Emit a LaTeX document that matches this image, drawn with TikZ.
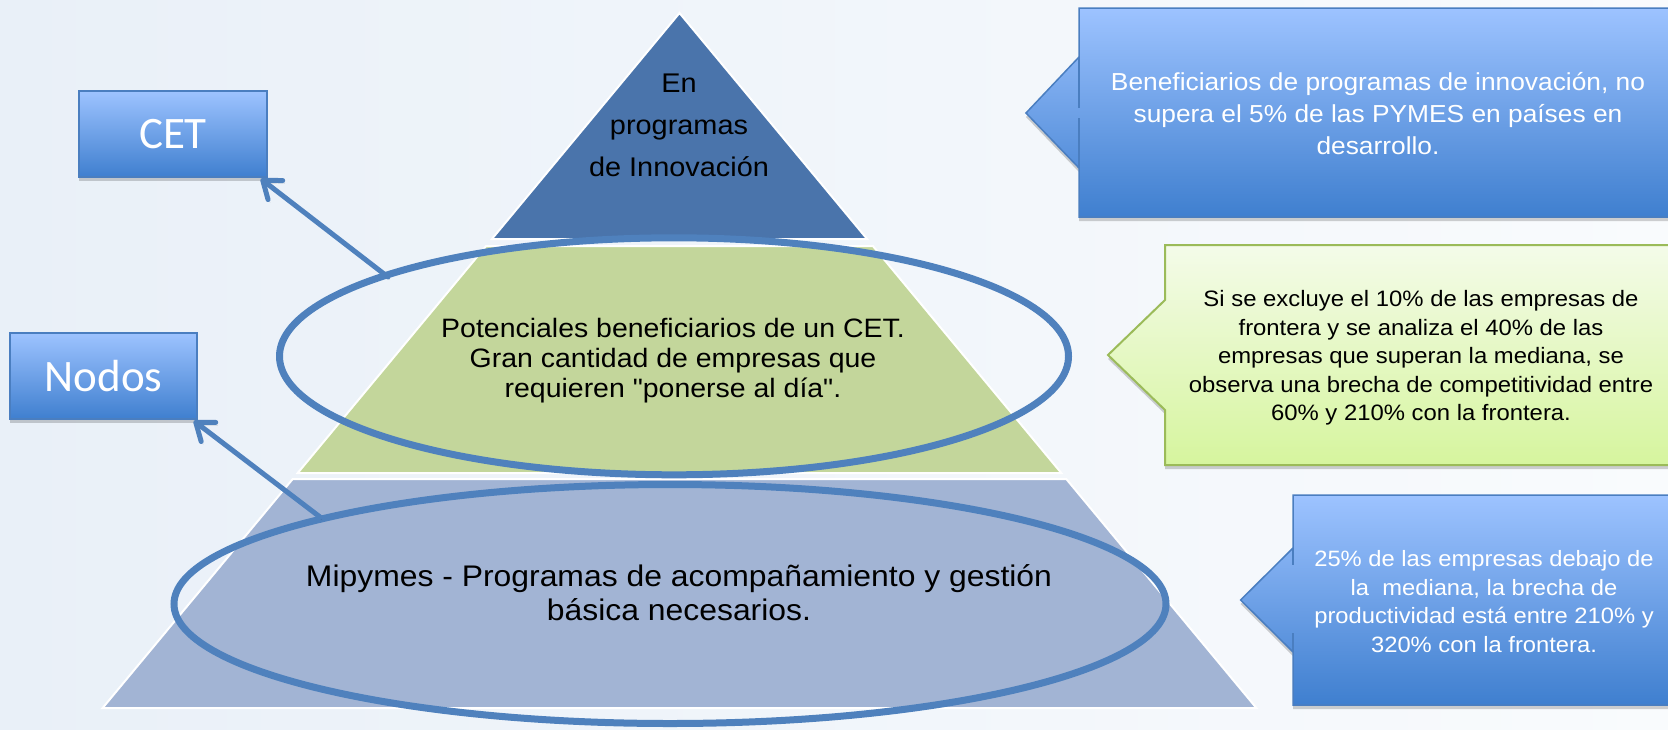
\documentclass[tikz,border=0pt]{standalone}
\usepackage{fontspec}
\setmainfont{Liberation Sans}[FakeStretch=1.07]
\newfontfamily\plainq{Liberation Sans}[FakeStretch=1.07]
\newfontfamily\calib{Carlito}
\usetikzlibrary{shapes.geometric,arrows.meta,shadows,calc}
\definecolor{bgL}{HTML}{E9F0F8}
\definecolor{bgR}{HTML}{F9FBFD}
\definecolor{tri}{HTML}{4A74AB}
\definecolor{midg}{HTML}{C3D69B}
\definecolor{lowb}{HTML}{A2B4D4}
\definecolor{ring}{HTML}{4F81BD}
\definecolor{boxtop}{HTML}{9DC3FF}
\definecolor{boxbot}{HTML}{3F7FCF}
\definecolor{boxline}{HTML}{4A7EC0}
\definecolor{gtop}{HTML}{F4FBE9}
\definecolor{gbot}{HTML}{D6F59E}
\definecolor{gline}{HTML}{9BBB59}
\begin{document}
\begin{tikzpicture}[x=1pt,y=-1pt,
  layer/.style={draw=white,line width=2pt},
  ringstyle/.style={ellipse,draw=ring,line width=7pt,inner sep=0pt},
  softshadow/.style={drop shadow={shadow xshift=0pt,shadow yshift=-4pt,fill=black,opacity=0.18}},
  labelbox/.style={draw=boxline,line width=1.5pt,top color=boxtop,bottom color=boxbot,
    text=white,font=\calib\fontsize{45}{50}\selectfont,inner sep=0pt,softshadow},
  bluecall/.style={draw=boxline,line width=1.5pt,top color=boxtop,bottom color=boxbot},
  greencall/.style={draw=gline,line width=2pt,top color=gtop,bottom color=gbot},
  conn/.style={draw=ring,line width=5pt,line cap=round,-{Straight Barb[length=16pt,width=24pt,round]},
    preaction={draw=black,opacity=0.13,transform canvas={shift={(2pt,-3pt)}}}},
  txt/.style={align=center,inner sep=0pt}
  ]
\clip (0,0) rectangle (1668,729);
\fill[left color=bgL,right color=bgR] (0,0) rectangle (1668,729);

% pyramid
\path[layer,fill=tri] (679.5,13) -- (867.1,239) -- (491.9,239) -- cycle;
\path[layer,fill=midg] (486.1,246) -- (872.9,246) -- (1061.3,473) -- (297.7,473) -- cycle;
\path[layer,fill=lowb] (292.7,479) -- (1066.3,479) -- (1256.4,708) -- (102.6,708) -- cycle;

\node[txt,font=\fontsize{27}{42}\selectfont] (t1) at (679,125.2) {En\\programas\\de Innovación};
\node[txt,font=\fontsize{26.6}{30}\selectfont] (t2) at (673,361) {Potenciales beneficiarios de un CET.\\Gran cantidad de empresas que\\requieren {\plainq"}ponerse al día{\plainq"}.};
\node[txt,font=\fontsize{29.8}{34}\selectfont] (t3) at (679,592.5) {Mipymes - Programas de acompañamiento y gestión\\básica necesarios.};

% rings
\node[ringstyle,minimum width=789pt,minimum height=237pt] (ring1) at (674,356.3) {};
\node[ringstyle,minimum width=992pt,minimum height=239pt] (ring2) at (670,604) {};

% label boxes
\node[labelbox,minimum width=188pt,minimum height=86pt] (cet) at (173,134) {CET};
\node[labelbox,minimum width=187pt,minimum height=86pt] (nodos) at (103.5,376) {Nodos};

% connectors
\coordinate (s1) at (388,277);
\coordinate (s2) at (320,517);
\draw[conn] (s1) -- ($(cet.south east)+(-7,1)$);
\draw[conn] (s2) -- ($(nodos.south east)+(-4,1)$);

% callouts
\path[bluecall,softshadow] (1079,8) -- (1690,8) -- (1690,217) -- (1079,217) -- (1079,168) -- (1026,113) -- (1079,57) -- cycle;
\draw[boxline,line width=1.5pt] (1079,57) -- (1079,108) (1079,118) -- (1079,168);
\node[txt,text=white,font=\fontsize{24.6}{31.7}\selectfont] (c1) at (1378,113.4)
  {Beneficiarios de programas de innovación, no\\supera el 5\% de las PYMES en países en\\desarrollo.};

\path[greencall,softshadow] (1165,245) -- (1690,245) -- (1690,465) -- (1165,465) -- (1165,410) -- (1108,355) -- (1165,300) -- cycle;
\node[txt,text=black,font=\fontsize{22.3}{28.4}\selectfont] (c2) at (1421,358)
  {Si se excluye el 10\% de las empresas de\\frontera y se analiza el 40\% de las\\empresas que superan la mediana, se\\observa una brecha de competitividad entre\\60\% y 210\% con la frontera.};

\path[bluecall,softshadow] (1293,495) -- (1690,495) -- (1690,705) -- (1293,705) -- (1293,652) -- (1240.6,600) -- (1293,548) -- cycle;
\draw[boxline,line width=1.5pt] (1293,548) -- (1293,565) (1293,633) -- (1293,652);
\node[txt,text=white,font=\fontsize{22.2}{28.7}\selectfont] (c3) at (1484,601.6)
  {25\% de las empresas debajo de\\la\ \ mediana, la brecha de\\productividad está entre 210\% y\\320\% con la frontera.};
\end{tikzpicture}
\end{document}
